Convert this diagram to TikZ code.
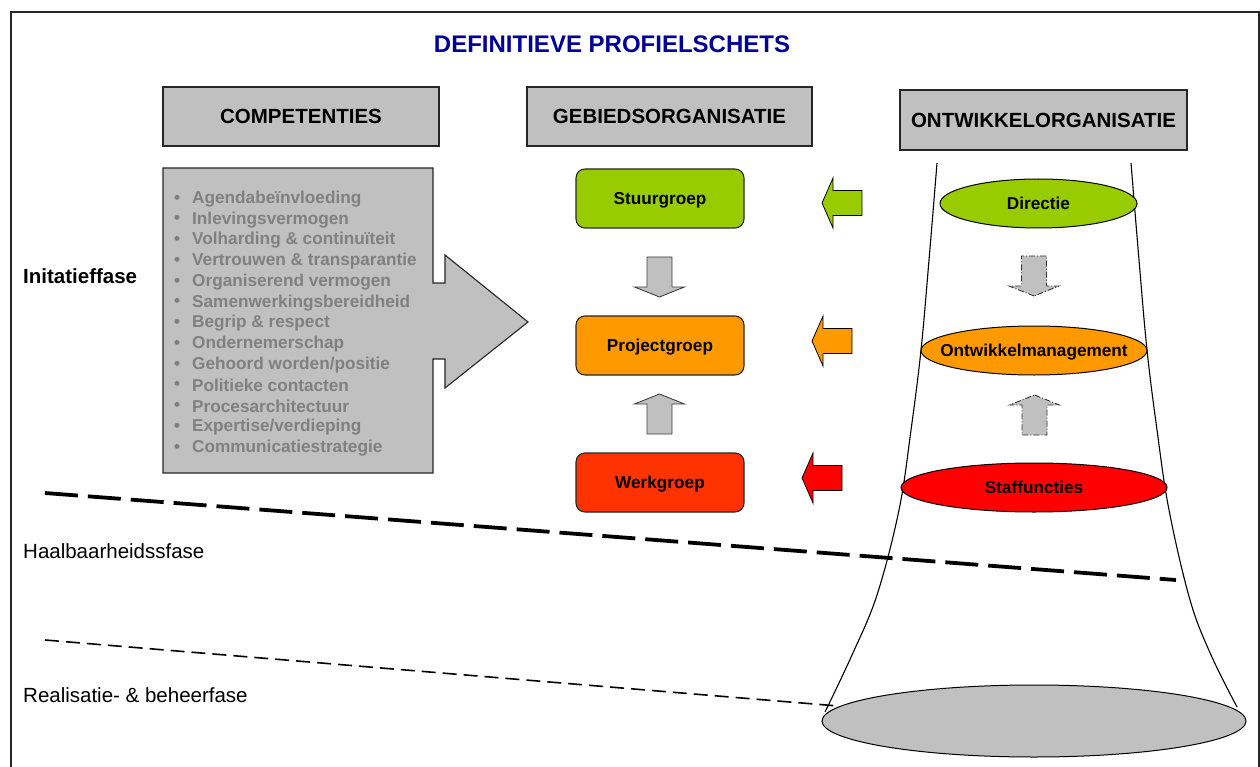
\documentclass[tikz,border=0pt]{standalone}
\usepackage{fontspec}
\setmainfont{Liberation Sans}
\usetikzlibrary{shapes.geometric}

\definecolor{boxgray}{HTML}{C0C0C0}
\definecolor{txtgray}{HTML}{808080}
\definecolor{titleblue}{HTML}{000099}
\definecolor{groen}{HTML}{99CC00}
\definecolor{oranje}{HTML}{FF9900}
\definecolor{rood}{HTML}{FF3300}
\definecolor{felrood}{HTML}{FF0000}

\tikzset{
  header/.style={draw=black!85, line width=1.2pt, fill=boxgray, inner sep=0pt,
    font=\fontsize{20.5}{24}\bfseries\selectfont},
  grp/.style={draw=black!85, line width=1.1pt, rounded corners=9pt, inner sep=0pt,
    minimum width=168pt, minimum height=59pt, text depth=0pt,
    font=\fontsize{17.2}{20}\bfseries\selectfont},
  orgell/.style={draw=black, line width=1pt, ellipse, inner sep=0pt, minimum height=49pt},
  lbl/.style={text depth=0pt, font=\fontsize{17.2}{20}\bfseries\selectfont},
  phase/.style={anchor=west, inner sep=0pt, font=\fontsize{20.5}{24}\selectfont},
  comp/.style={anchor=west, inner sep=0pt, text=txtgray, font=\fontsize{17.2}{20}\bfseries\selectfont},
  larrow/.pic={\path[pic actions] (0,0) -- (11,-25) -- (11,-12.5) -- (40,-12.5)
     -- (40,12.5) -- (11,12.5) -- (11,25) -- cycle;},
  varrow/.pic={\path[pic actions] (0,0) -- (-25,-10) -- (-12.5,-10) -- (-12.5,-40)
     -- (12.5,-40) -- (12.5,-10) -- (25,-10) -- cycle;},
  flowarrow/.style={fill=boxgray, draw=black!75, line width=0.9pt},
  dasharrow/.style={fill=boxgray, draw=black!80, line width=0.9pt,
     dash pattern=on 6pt off 2pt on 1pt off 2pt},
  sidearrow/.style={draw=black, line width=0.8pt},
}

\begin{document}
\begin{tikzpicture}[x=1pt, y=-1pt]
\useasboundingbox (0,0) rectangle (1260,767);

% outer frame
\draw[black!85, line width=1.2pt] (11,800) -- (11,12) -- (1259,12) -- (1259,800);

% title
\node[text=titleblue, font=\fontsize{24}{28}\bfseries\selectfont] (title) at (612,44) {DEFINITIEVE PROFIELSCHETS};

% column headers
\node[header, minimum width=276pt, minimum height=59pt] (hcomp) at (301,116.5) {COMPETENTIES};
\node[header, minimum width=285pt, minimum height=59pt] (hgeb) at (669.5,116.5) {GEBIEDSORGANISATIE};
\node[header, minimum width=287pt, minimum height=60pt] (hontw) at (1043.5,120) {ONTWIKKELORGANISATIE};

% phase boundaries
\coordinate (b1s) at (45,493);
\coordinate (b1e) at (1176,580);
\coordinate (b2s) at (45,640);
\coordinate (b2e) at (838,706);
\draw[line width=3.8pt, dash pattern=on 33pt off 10pt] (b1s) -- (b1e);
\draw[line width=1.6pt, dash pattern=on 14pt off 7pt] (b2s) -- (b2e);

% phase labels
\node[phase, font=\fontsize{20.5}{24}\bfseries\selectfont] (f1) at (23,276) {Initatieffase};
\node[phase] (f2) at (23,551) {Haalbaarheidssfase};
\node[phase] (f3) at (23,695) {Realisatie- \& beheerfase};

% competences block arrow
\filldraw[fill=boxgray, draw=black!85, line width=1.1pt]
  (163,168) -- (433,168) -- (433,283) -- (445,283) -- (445,255) -- (528,322)
  -- (445,388) -- (445,359) -- (433,359) -- (433,473) -- (163,473) -- cycle;
\foreach \t [count=\i] in {Agendabeïnvloeding, Inlevingsvermogen, Volharding \& continuïteit,
    Vertrouwen \& transparantie, Organiserend vermogen, Samenwerkingsbereidheid,
    Begrip \& respect, Ondernemerschap, Gehoord worden/positie, Politieke contacten,
    Procesarchitectuur, Expertise/verdieping, Communicatiestrategie}{
  \node[comp] (b\i) at (174,{199+20.75*(\i-1)}) {•};
  \node[comp] (c\i) at (192,{199+20.75*(\i-1)}) {\t};
}

% area organisation
\node[grp, fill=groen] (stuur) at (660,198.5) {Stuurgroep};
\node[grp, fill=oranje] (proj) at (660,345.5) {Projectgroep};
\node[grp, fill=rood] (werk) at (660,482.5) {Werkgroep};
\pic[flowarrow] at (659.5,297) {varrow};
\pic[flowarrow, rotate=180] at (659.5,394) {varrow};

% arrows from developer to area organisation
\pic[sidearrow, fill=groen] at (822,203) {larrow};
\pic[sidearrow, fill=oranje] at (812,341) {larrow};
\pic[sidearrow, fill=felrood] at (802,478) {larrow};

% developer organisation funnel
\draw[line width=1.1pt] plot[smooth, tension=0.6] coordinates
  {(937,163) (929,260) (921,350) (911,430) (899,510) (877,595) (852,655) (825,712)};
\draw[line width=1.1pt] plot[smooth, tension=0.6] coordinates
  {(1131,163) (1139,260) (1147,350) (1157,430) (1169,510) (1190,600) (1211,655) (1237,707)};

\node[orgell, fill=groen, minimum width=197pt] (dir) at (1038.5,203.5) {};
\node[lbl] (dirt) at (dir) {Directie};
\node[orgell, fill=oranje, minimum width=226pt] (om) at (1034,350.5) {};
\node[lbl] (omt) at (om) {Ontwikkelmanagement};
\node[orgell, fill=felrood, minimum width=266pt] (staf) at (1034,487.5) {};
\node[lbl] (staft) at (staf) {Staffuncties};

\pic[dasharrow] at (1034,296) {varrow};
\pic[dasharrow, rotate=180] at (1034.5,395) {varrow};

% base of the funnel
\node[orgell, fill=boxgray, minimum width=424pt, minimum height=72pt] (base) at (1034,721) {};
\end{tikzpicture}
\end{document}
